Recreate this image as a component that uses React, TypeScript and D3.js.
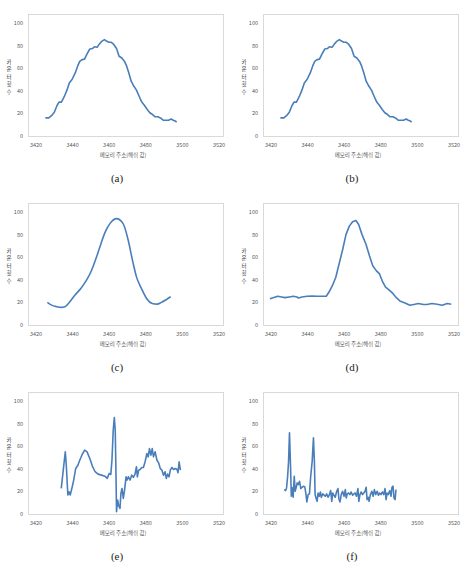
import * as d3 from "d3";

// memory address (hex) vs. hit count, one series per panel
const seriesA: [number, number][] = [
  [3425.1, 16], [3427, 16], [3428.8, 18.5], [3430, 21], [3431.5, 27], [3432.6, 30],
  [3433.9, 30], [3435.5, 35], [3437, 41], [3438.2, 47], [3439.7, 50], [3441.5, 56],
  [3442.8, 62], [3443.9, 66], [3445.2, 67.6], [3446.5, 68], [3447.9, 72.6], [3449.4, 77],
  [3450.8, 77.4], [3451.9, 79], [3453.4, 78.5], [3454.7, 81.5], [3456.1, 84], [3457.4, 85.3],
  [3458.5, 84], [3459.8, 83], [3461, 83], [3462.5, 81], [3464, 77.4], [3465.4, 70.6],
  [3466.9, 69], [3468.4, 66], [3469.5, 62], [3470.7, 56], [3472, 48.5], [3473.5, 44],
  [3474.9, 40.6], [3476.4, 35], [3477.8, 30], [3479.3, 27], [3480.8, 23.5], [3482.2, 20.6],
  [3483.7, 19], [3485.1, 17], [3486.6, 17], [3488, 16], [3489.5, 14], [3490.9, 14],
  [3492.4, 14], [3493.9, 15], [3495, 14], [3496.4, 13], [3496.8, 12],
];

const seriesB: [number, number][] = [
  [3425.1, 16], [3427, 16], [3428.8, 18.5], [3430, 21], [3431.5, 27], [3432.6, 30],
  [3433.9, 30], [3435.5, 35], [3437, 41], [3438.2, 47], [3439.7, 50], [3441.5, 56],
  [3442.8, 62], [3443.9, 66], [3445.2, 67.6], [3446.5, 68], [3447.9, 72.6], [3449.4, 77],
  [3450.8, 77.4], [3451.9, 79], [3453.4, 78.5], [3454.7, 81.5], [3456.1, 84], [3457.4, 85.3],
  [3458.5, 84], [3459.8, 83], [3461, 83], [3462.5, 81], [3464, 77.4], [3465.4, 70.6],
  [3466.9, 69], [3468.4, 66], [3469.5, 62], [3470.7, 56], [3472, 48.5], [3473.5, 44],
  [3474.9, 40.6], [3476.4, 35], [3477.8, 30], [3479.3, 27], [3480.8, 23.5], [3482.2, 20.6],
  [3483.7, 19], [3485.1, 17], [3486.6, 17], [3488, 16], [3489.5, 14], [3490.9, 14],
  [3492.4, 14], [3493.9, 15], [3495, 14], [3496.4, 13], [3496.8, 12],
];

const seriesC: [number, number][] = [
  [3426.2, 20], [3428.5, 17.6], [3431.3, 16.2], [3433.6, 15.6], [3435.8, 16.2],
  [3438.5, 20.6], [3441.3, 26.5], [3444.5, 32.4], [3447.6, 39.7], [3450.4, 48.5],
  [3453.1, 60.3], [3455.5, 72], [3457.6, 81.5], [3460.4, 89.7], [3464, 94.1],
  [3467.6, 89.7], [3470.4, 75], [3472.7, 57.4], [3474.9, 42.6], [3477.6, 32.4],
  [3480.4, 23.5], [3483.5, 19.1], [3486.2, 18.5], [3488.5, 20], [3491.3, 22.6], [3493.6, 25],
];

const seriesD: [number, number][] = [
  [3419.4, 23.3], [3421.2, 24.2], [3423.6, 25.4], [3425.8, 24.8], [3427.7, 24.2],
  [3429.9, 24.8], [3432.3, 25.4], [3434.2, 24.8], [3435.1, 23.9], [3436.9, 24.8],
  [3439.7, 25.4], [3442.5, 25.7], [3445.3, 25.4], [3448, 25.4], [3450.2, 25.4],
  [3451.7, 29.2], [3453.6, 35], [3455.4, 42.3], [3457.2, 54], [3459.2, 67], [3461, 80.2],
  [3462.8, 87.5], [3464.6, 91.3], [3466.4, 92.4], [3467.9, 89], [3469.7, 80.2],
  [3471.9, 71.4], [3473.8, 61.2], [3475.6, 52.5], [3477.5, 48.1], [3479.3, 45.2],
  [3481.1, 37.9], [3482.6, 33.5], [3484.8, 30.6], [3486.7, 27.7], [3488.5, 24.2],
  [3490.4, 21.3], [3493.2, 19.5], [3495.9, 17.5], [3498.7, 18.4], [3500.5, 19],
  [3503.3, 18.1], [3505.2, 18.1], [3507.9, 19], [3510.8, 18.4], [3513.5, 17.5],
  [3516.3, 19], [3518.5, 18.4],
];

const seriesE: [number, number][] = [
  [3433.8, 22.6], [3434.7, 35.9], [3436, 55], [3436.5, 44.7], [3437.4, 16.8], [3438, 19.7],
  [3438.7, 16.8], [3439.8, 24.1], [3440.6, 30], [3441.7, 40.3], [3442.9, 43.2], [3443.9, 47.6],
  [3445.3, 52.9], [3446.6, 56.5], [3447.9, 55], [3449.4, 49.1], [3450.8, 42.4], [3452.3, 37.4],
  [3453.9, 35.3], [3455.8, 34.4], [3457.6, 33.5], [3458.9, 31.5], [3460, 35.9], [3460.9, 35],
  [3461.5, 47.6], [3462.2, 74.1], [3462.8, 85.3], [3463.3, 74.1], [3463.7, 35.9], [3464, 2.1],
  [3464.6, 12.4], [3465.1, 7.9], [3465.9, 5], [3466.4, 18.2], [3467, 22.6], [3467.7, 13.8],
  [3468.4, 21.2], [3469.2, 32.9], [3469.7, 30], [3470.5, 32.9], [3471.4, 30], [3472.3, 34.4],
  [3473.2, 32.4], [3474.1, 35.3], [3474.9, 41.8], [3475.4, 32.9], [3476.1, 38.8], [3476.9, 39.4],
  [3477.8, 41.2], [3478.7, 41.2], [3479.6, 46.2], [3480.6, 53.5], [3481.3, 50.6], [3482, 57.9],
  [3482.8, 52.1], [3483.5, 57.9], [3484.2, 50.6], [3485.1, 55], [3486.1, 47.6], [3487, 45.3],
  [3487.9, 40.3], [3488.8, 38.8], [3489.7, 34.4], [3490.5, 37.4], [3491.2, 31.5], [3491.9, 35.3],
  [3492.7, 32.9], [3493.4, 38.8], [3494.3, 41.2], [3495.2, 39.4], [3496.1, 40.3], [3497.1, 39.4],
  [3497.6, 36.5], [3498.2, 46.2], [3498.9, 38.8],
];

const seriesF: [number, number][] = [
  [3427.2, 21.6], [3428, 20.7], [3428.5, 23.1], [3429.1, 33.4], [3429.6, 46.7], [3430.1, 71.9],
  [3430.7, 40.8], [3431.1, 15.7], [3431.6, 23.1], [3432.1, 14.8], [3432.7, 33.4], [3433.2, 20.1],
  [3433.8, 23.7], [3434.3, 27.5], [3434.9, 26], [3435.6, 29], [3436.3, 22.5], [3437, 23.7],
  [3437.8, 24.6], [3438.5, 23.7], [3439, 18.6], [3439.6, 10.7], [3440.3, 17.2], [3441, 17.8],
  [3441.7, 33.4], [3442.5, 46.7], [3443.2, 67.5], [3443.7, 46.7], [3444.1, 17.2], [3444.6, 14.2],
  [3445.2, 11.2], [3445.7, 18.6], [3446.4, 15.7], [3447, 19.5], [3447.5, 14.8], [3448.3, 17.8],
  [3449, 16.6], [3449.7, 15.7], [3450.4, 17.8], [3451.2, 14.8], [3451.9, 17.2], [3452.6, 20.7],
  [3453.2, 11.2], [3453.7, 18.6], [3454.4, 16.6], [3455.1, 14.8], [3455.9, 20.1], [3456.6, 22.5],
  [3457.1, 13.6], [3457.7, 10.7], [3458.4, 17.2], [3459.1, 20.1], [3459.9, 15.7], [3460.6, 21.6],
  [3461.1, 14.2], [3461.7, 17.8], [3462.4, 18.6], [3463.1, 17.2], [3463.8, 19.5], [3464.6, 16.6],
  [3465.3, 17.8], [3466, 18.6], [3466.7, 15.7], [3467.5, 22.5], [3468, 11.2], [3468.6, 17.2],
  [3469.3, 19.5], [3470, 17.2], [3470.7, 18.6], [3471.4, 20.1], [3472, 23.7], [3472.5, 12.7],
  [3473.1, 14.8], [3473.6, 11.2], [3474.3, 17.2], [3475.1, 20.1], [3475.8, 15.7], [3476.5, 21.6],
  [3477.2, 17.2], [3478, 20.1], [3478.7, 16.6], [3479.4, 18.6], [3480.1, 17.2], [3480.9, 19.5],
  [3481.6, 17.2], [3482.3, 22.5], [3482.9, 12.7], [3483.4, 18.6], [3484.1, 17.2], [3484.9, 20.7],
  [3485.6, 15.7], [3486.1, 23.7], [3486.7, 24.6], [3487.2, 14.2], [3487.8, 12.7], [3488.3, 21.6],
];

const captions = ["(a)", "(b)", "(c)", "(d)", "(e)", "(f)"];
const xTicks = [3420, 3440, 3460, 3480, 3500, 3520];
const yTicks = [0, 20, 40, 60, 80, 100];
const xTitle = "메모리 주소(해쉬 값)";
const yTitle = "카운터횟수";

const panels = [seriesA, seriesB, seriesC, seriesD, seriesE, seriesF];

const W = 469;
const H = 562;
const LINE = "#4a7ebb";
const TEXT = "#595959";
const FONT = "'Noto Sans CJK KR', 'Noto Sans', sans-serif";
const SERIF = "'Liberation Serif', 'DejaVu Serif', serif";

const x = d3.scaleLinear().domain([3420, 3520]).range([36, 219]);
const y = d3.scaleLinear().domain([0, 100]).range([136, 23]);

function Panel({ data, caption, smooth }: { data: [number, number][]; caption: string; smooth: boolean }) {
  const line = d3
    .line<[number, number]>()
    .x((d) => x(d[0]))
    .y((d) => y(d[1]))
    .curve(smooth ? d3.curveMonotoneX : d3.curveLinear);

  return (
    <g>
      <rect x={28.5} y={14.5} width={195} height={122} fill="#fff" stroke="#d9d9d9" strokeWidth={1} />
      {yTicks.map((t) => (
        <text key={t} x={23} y={y(t)} dy="0.35em" textAnchor="end" fontSize={5.5} fill={TEXT}>
          {t}
        </text>
      ))}
      {xTicks.map((t) => (
        <text key={t} x={x(t)} y={147} textAnchor="middle" fontSize={5.5} fill={TEXT}>
          {t}
        </text>
      ))}
      <text x={123} y={157} textAnchor="middle" fontSize={5.5} fill={TEXT}>
        {xTitle}
      </text>
      {Array.from(yTitle).map((ch, i) => (
        <text key={i} x={9} y={62 + i * 7.5} dy="0.35em" textAnchor="middle" fontSize={5.5} fill="#444">
          {ch}
        </text>
      ))}
      <path d={line(data) ?? ""} fill="none" stroke={LINE} strokeWidth={1.6} strokeLinejoin="round" />
      <text x={117} y={182} textAnchor="middle" fill="#222" style={{ fontFamily: SERIF, fontSize: 11, fontWeight: 400 }}>
        {caption}
      </text>
    </g>
  );
}

export default function App() {
  return (
    <svg
      width={W}
      height={H}
      style={{ position: "absolute", left: 0, top: 0, background: "#fff" }}
      fontFamily={FONT}
    >
      {panels.map((data, i) => {
        const col = i % 2;
        const row = Math.floor(i / 2);
        return (
          <g key={i} transform={`translate(${col * 235},${row * 189})`}>
            <Panel data={data} caption={captions[i]} smooth={i === 2} />
          </g>
        );
      })}
    </svg>
  );
}
